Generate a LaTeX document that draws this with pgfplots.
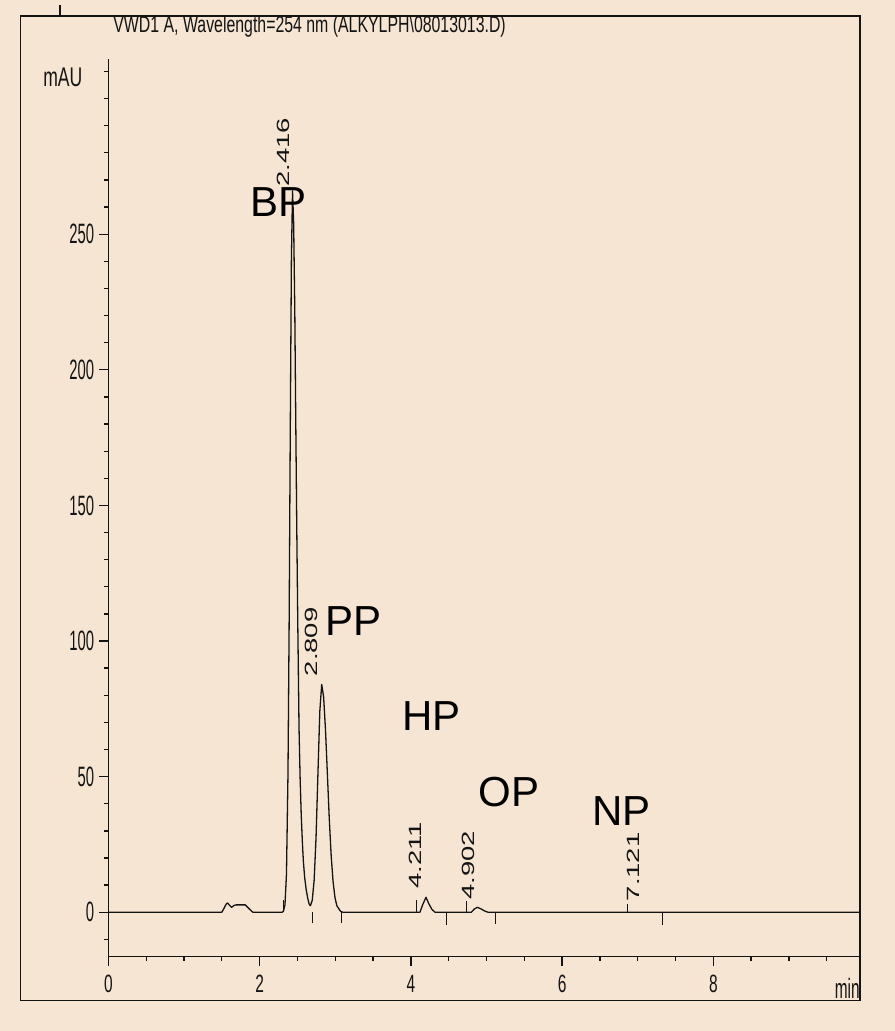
\documentclass[border=0pt]{standalone}
\usepackage{fontspec}
\setmainfont{Liberation Sans}
\usepackage{graphicx}
\usepackage{pgfplots}
\pgfplotsset{compat=1.18}
\definecolor{bgbeige}{RGB}{246,229,210}
\definecolor{inkc}{RGB}{20,20,20}
\begin{document}
\begin{tikzpicture}
\fill[bgbeige] (0,0) rectangle (447.5bp,515.5bp);
\draw[line width=0.8bp, inkc] (10.3bp,15.15bp) rectangle (430bp,507.5bp);
\draw[line width=0.6bp, inkc] (30bp,507.5bp) -- (30bp,513bp);
\node[anchor=base west, inner sep=0pt, font=\fontsize{11.5bp}{13bp}\selectfont, text=inkc] at (56.5bp,499.3bp) {\scalebox{0.69}[1]{VWD1 A, Wavelength=254 nm (ALKYLPH\textbackslash 08013013.D)}};
\node[anchor=base, inner sep=0pt, font=\fontsize{13.5bp}{15bp}\selectfont, text=inkc] at (31.4bp,472bp) {\scalebox{0.65}[1]{mAU}};
\node[anchor=base east, inner sep=0pt, font=\fontsize{14bp}{16bp}\selectfont, text=inkc] at (430bp,16.3bp) {\scalebox{0.55}[1]{min}};
\begin{axis}[
  at={(54.2bp,37.15bp)}, anchor=south west,
  scale only axis, width=375.8bp, height=448.85bp,
  xmin=0, xmax=9.94, ymin=-16.4, ymax=314.6,
  axis x line*=bottom, axis y line*=left,
  axis line style={line width=0.75bp, inkc, -},
  xtick={0,2,4,6,8}, minor xtick={0.5,1,...,9.5},
  ytick={0,50,...,250}, minor ytick={-10,0,...,310},
  tick align=outside, major tick length=4.5bp, minor tick length=2bp,
  tick style={line width=0.65bp, inkc},
  /pgf/number format/assume math mode=true,
  xticklabel style={font=\fontsize{12.5bp}{14bp}\selectfont, inner sep=0pt, anchor=north, yshift=-4.6bp, text=inkc},
  yticklabel style={font=\fontsize{14bp}{16bp}\selectfont, inner sep=0pt, anchor=east, xshift=-2.4bp, text=inkc},
  xticklabel={\scalebox{0.62}[1]{\pgfmathprintnumber{\tick}}},
  yticklabel={\scalebox{0.53}[1]{\pgfmathprintnumber{\tick}}},
  clip=false,
]
\addplot[line width=0.65bp, inkc, line join=round] coordinates {
(0,0) (1.50,0) (1.53,1.5) (1.56,3.1) (1.578,3.4) (1.60,2.6) (1.63,1.8) (1.66,2.5) (1.69,2.7) (1.81,2.7) (1.86,1.3) (1.91,0)
(2.30,0) (2.315,0.4) (2.335,2.7) (2.355,14) (2.375,51) (2.39,105) (2.405,176) (2.42,240) (2.435,266) (2.45,254) (2.465,222) (2.477,184) (2.49,145) (2.504,108) (2.521,68) (2.535,50) (2.55,36) (2.565,26) (2.578,19) (2.595,13) (2.615,8.5) (2.635,5.3) (2.655,3) (2.672,2.4)
(2.696,4.4) (2.721,11.8) (2.746,27.5) (2.771,51) (2.796,74.1) (2.821,84) (2.846,79.5) (2.871,67.3) (2.896,51) (2.921,34.5) (2.946,20.9) (2.971,11.4) (2.996,5.5) (3.021,2.4) (3.071,0.3) (3.10,0)
(4.12,0) (4.16,3) (4.20,5.5) (4.24,3.0) (4.28,1.0) (4.32,0)
(4.80,0) (4.84,1.2) (4.88,1.8) (4.93,1.2) (4.98,0.4) (5.02,0) (9.94,0)
};
\addplot[ycomb, line width=0.6bp, inkc] coordinates {(2.32,4.4) (4.07,4.4) (4.74,4.2) (6.86,3.0) (2.70,-3.8) (3.08,-4) (4.47,-4.6) (5.12,-4.5) (7.33,-4.6)};
\begin{scope}[every node/.style={rotate=90, anchor=west, inner sep=0pt, font=\fontsize{8.85bp}{10bp}\selectfont, text=inkc}]
\node at (axis cs:2.313,267.3) {\scalebox{1.55}[1]{2.416}};
\node at (axis cs:2.689,86.9) {\scalebox{1.55}[1]{2.809}};
\node at (axis cs:4.056,8.5) {\scalebox{1.55}[1]{4.211}};
\node at (axis cs:4.761,4.5) {\scalebox{1.55}[1]{4.902}};
\node at (axis cs:6.943,3.9) {\scalebox{1.55}[1]{7.121}};
\end{scope}
\begin{scope}[every node/.style={inner sep=0pt, font=\fontsize{21bp}{24bp}\selectfont, text=black}]
\node at (axis cs:2.250,261.9) {BP};
\node at (axis cs:3.246,107.2) {PP};
\node at (axis cs:4.271,72.5) {HP};
\node at (axis cs:5.297,44.2) {OP};
\node at (axis cs:6.785,37.4) {NP};
\end{scope}
\end{axis}
\pgfresetboundingbox
\path[use as bounding box] (0,0) rectangle (447.5bp,515.5bp);
\end{tikzpicture}
\end{document}
